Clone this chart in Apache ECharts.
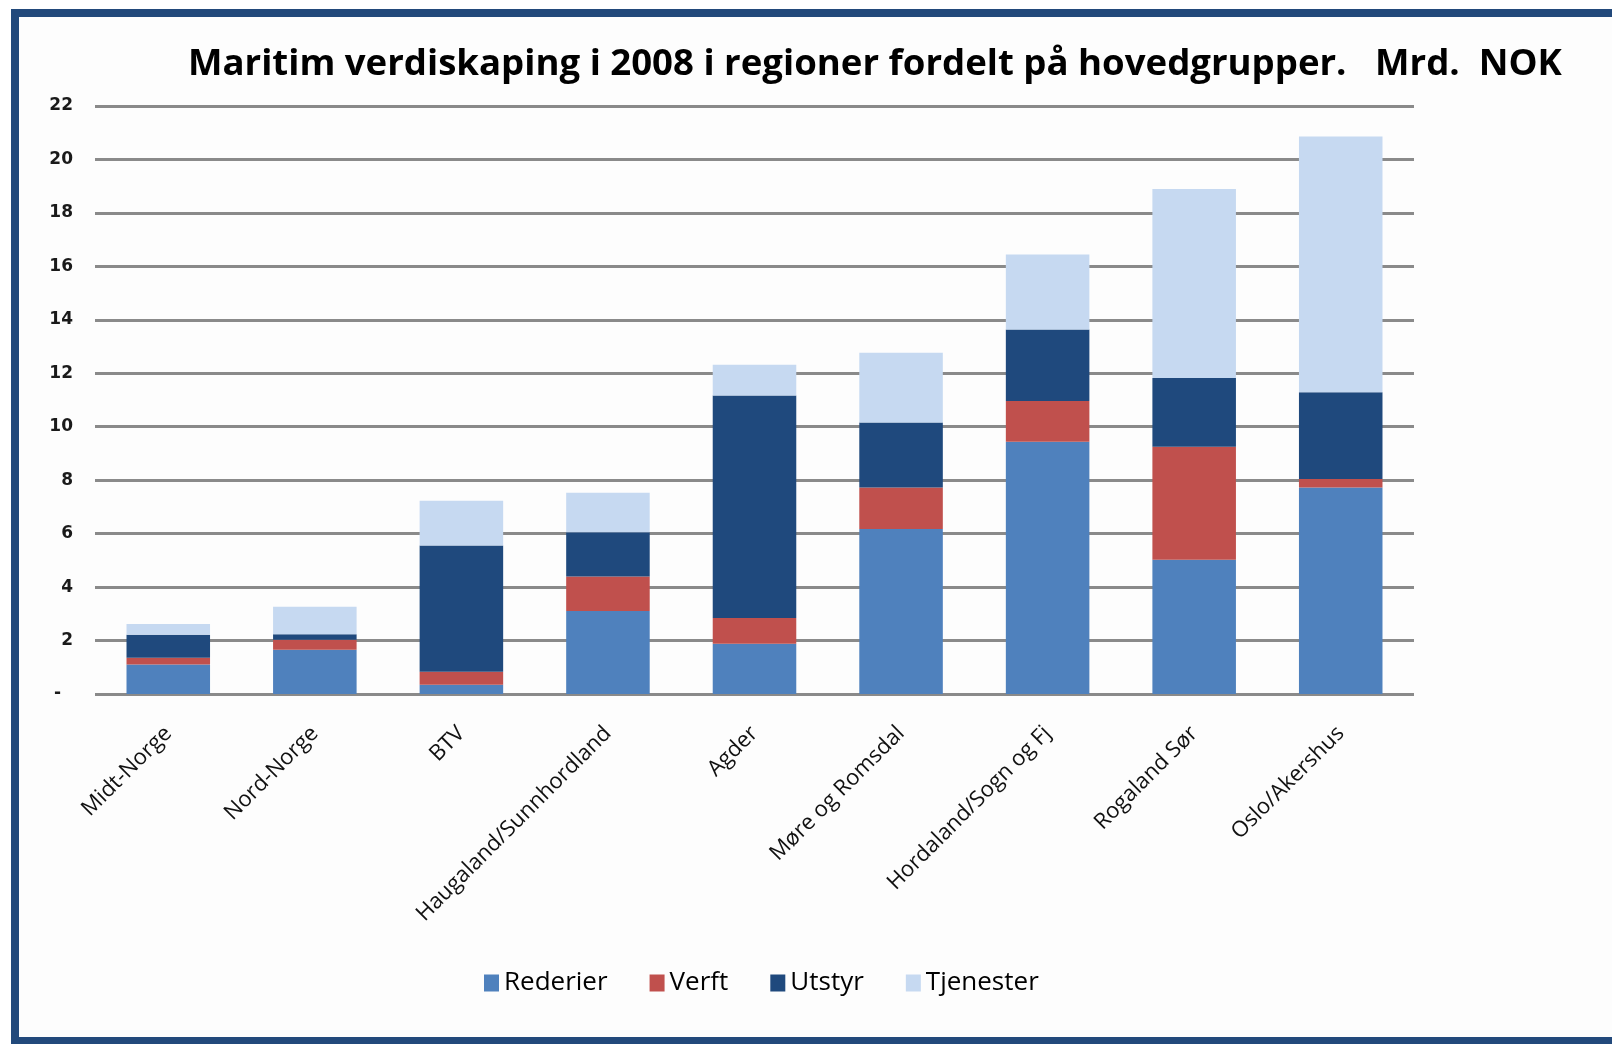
<!DOCTYPE html>
<html>
<head>
<meta charset="utf-8">
<script src="https://cdn.jsdelivr.net/npm/echarts@6/dist/echarts.min.js"></script>
<style>
  html, body { margin: 0; padding: 0; background: #ffffff; }
  #Chart { width: 1612px; height: 1044px; }
</style>
</head>
<body>
<div id="Chart"></div>
<script>
var categories = ['Midt-Norge', 'Nord-Norge', 'BTV', 'Haugaland/Sunnhordland', 'Agder', 'Møre og Romsdal', 'Hordaland/Sogn og Fj', 'Rogaland Sør', 'Oslo/Akershus'];
var seriesNames = ['Rederier', 'Verft', 'Utstyr', 'Tjenester'];
var rederier = [1.10, 1.66, 0.35, 3.11, 1.88, 6.17, 9.44, 5.02, 7.73];
var verft = [0.26, 0.37, 0.48, 1.29, 0.96, 1.56, 1.52, 4.23, 0.31];
var utstyr = [0.86, 0.21, 4.73, 1.65, 8.33, 2.43, 2.68, 2.57, 3.25];
var tjenester = [0.40, 1.02, 1.67, 1.48, 1.15, 2.61, 2.80, 7.07, 9.57];
var colors = ['#4f81bd', '#c0504d', '#1f497d', '#c6d9f1'];

var myChart = echarts.init(document.getElementById('Chart'));
var font = '"Open Sans", sans-serif';

function bar(name, values, i) {
    return {
        name: name,
        type: 'bar',
        stack: 'total',
        barWidth: '57%',
        itemStyle: { color: colors[i] },
        data: values
    };
}

var option = {
    backgroundColor: '#ffffff',
    animation: false,
    title: {
        text: 'Maritim verdiskaping i 2008 i regioner fordelt på hovedgrupper.   Mrd.  NOK',
        left: 183,
        top: 41,
        textStyle: {
            fontFamily: font,
            fontWeight: 'bold',
            fontSize: 36.6,
            color: '#000000'
        }
    },
    // dark blue frame round the chart, right edge runs off the page
    graphic: [{
        type: 'rect',
        z: -1,
        shape: { x: 15, y: 13, width: 1640, height: 1028 },
        style: { fill: '#fdfdfd', stroke: '#22497b', lineWidth: 8 }
    }],
    legend: {
        data: seriesNames,
        left: 479,
        top: 965,
        icon: 'rect',
        itemWidth: 15,
        itemHeight: 17,
        itemGap: 42,
        textStyle: { fontFamily: font, fontSize: 26, color: '#000000' }
    },
    grid: {
        left: 95,
        right: 198,
        top: 106,
        bottom: 350
    },
    xAxis: {
        type: 'category',
        data: categories,
        axisTick: { show: false },
        axisLine: { show: false },
        axisLabel: {
            rotate: 45,
            interval: 0,
            margin: 36,
            fontFamily: font,
            fontSize: 22,
            color: '#111111'
        }
    },
    yAxis: {
        type: 'value',
        min: 0,
        max: 22,
        interval: 2,
        axisLine: { show: false },
        axisTick: { show: false },
        splitLine: { lineStyle: { color: '#8a8a8a', width: 3 } },
        axisLabel: {
            margin: 22,
            fontFamily: 'DejaVu Sans',
            fontWeight: 'bold',
            fontSize: 17,
            color: '#1a1a1a',
            formatter: function (v) { return v === 0 ? '-  ' : v; }
        }
    },
    series: [
        bar(seriesNames[0], rederier, 0),
        bar(seriesNames[1], verft, 1),
        bar(seriesNames[2], utstyr, 2),
        bar(seriesNames[3], tjenester, 3)
    ]
};

myChart.setOption(option);
</script>
</body>
</html>
